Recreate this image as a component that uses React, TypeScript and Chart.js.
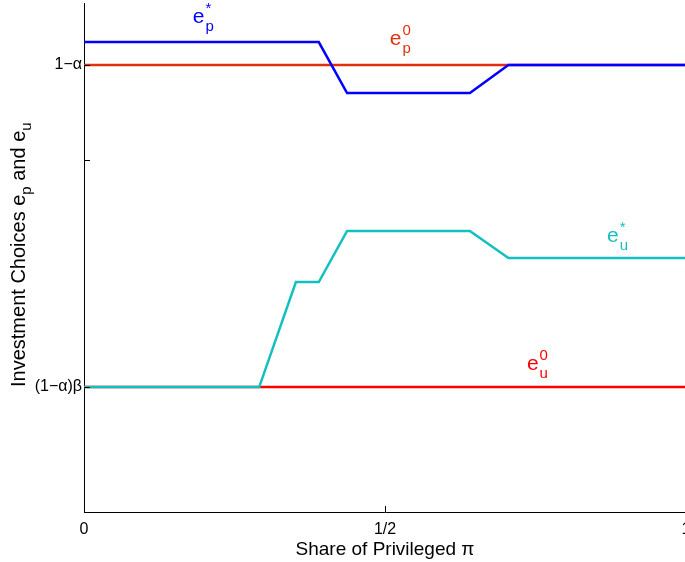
import React, { useEffect, useRef } from "react";
import { Chart, registerables } from "chart.js";
Chart.register(...registerables);

// ---- data ----
const epStarX = [0, 0.39, 0.437, 0.641, 0.705, 1];
const epStarY = [0.7242, 0.7242, 0.6705, 0.6705, 0.7, 0.7];
const euStarX = [0, 0.291, 0.352, 0.39, 0.437, 0.641, 0.705, 1];
const euStarY = [0.361, 0.361, 0.4716, 0.4716, 0.5253, 0.5253, 0.4968, 0.4968];
const baseX = [0, 1];
const ep0Y = [0.7, 0.7];
const eu0Y = [0.361, 0.361];

const xTickValues = [0, 0.5, 1];
const xTickLabels = ["0", "1/2", "1"];
const yTickValues = [0.361, 0.6, 0.7];
const yTickLabels = ["(1\u2212\u03b1)\u03b2", "", "1\u2212\u03b1"];

const annotations = [
  { sup: "*", sub: "p", x: 0.1807, y: 0.7442, color: "#0000ff" },
  { sup: "0", sub: "p", x: 0.508, y: 0.7211, color: "#e0300f" },
  { sup: "*", sub: "u", x: 0.8687, y: 0.5137, color: "#14bfbf" },
  { sup: "0", sub: "u", x: 0.7357, y: 0.3789, color: "#ff0000" },
];

const FONT = "'Liberation Sans', Arial, Helvetica, sans-serif";

const pts = (xs: number[], ys: number[]) => xs.map((x, i) => ({ x, y: ys[i] }));

const decorPlugin = {
  id: "decor",
  afterDraw(chart: any) {
    const ctx = chart.ctx;
    const xs = chart.scales.x;
    const ys = chart.scales.y;
    const area = chart.chartArea;
    ctx.save();
    // inward tick marks
    ctx.strokeStyle = "#000";
    ctx.lineWidth = 1;
    xTickValues.forEach((v) => {
      const px = Math.round(xs.getPixelForValue(v)) + 0.5;
      ctx.beginPath();
      ctx.moveTo(px, area.bottom);
      ctx.lineTo(px, area.bottom - 6);
      ctx.stroke();
    });
    yTickValues.forEach((v) => {
      const py = Math.round(ys.getPixelForValue(v)) + 0.5;
      ctx.beginPath();
      ctx.moveTo(area.left, py);
      ctx.lineTo(area.left + 6, py);
      ctx.stroke();
    });

    // x title
    ctx.fillStyle = "#000";
    ctx.font = `19px ${FONT}`;
    ctx.textAlign = "center";
    ctx.textBaseline = "alphabetic";
    ctx.fillText("Share of Privileged \u03c0", xs.getPixelForValue(0.5), 555);

    // y title (rotated, with subscripts)
    ctx.save();
    ctx.rotate(-Math.PI / 2);
    ctx.textAlign = "left";
    const big = `20px ${FONT}`;
    const small = `15px ${FONT}`;
    const parts: [string, boolean][] = [
      ["Investment Choices e", false],
      ["p", true],
      [" and e", false],
      ["u", true],
    ];
    let lx = -387;
    const baseY = 25;
    parts.forEach(([t, sub]) => {
      ctx.font = sub ? small : big;
      ctx.fillText(t, lx, sub ? baseY + 6 : baseY);
      lx += ctx.measureText(t).width;
    });
    ctx.restore();

    // annotations
    annotations.forEach((a) => {
      const px = xs.getPixelForValue(a.x);
      const py = ys.getPixelForValue(a.y);
      ctx.fillStyle = a.color;
      ctx.textAlign = "left";
      ctx.font = `21px ${FONT}`;
      ctx.fillText("e", px, py);
      const w = ctx.measureText("e").width;
      ctx.font = `15px ${FONT}`;
      ctx.fillText(a.sup, px + w + 1, py - 10);
      ctx.fillText(a.sub, px + w + 1, py + 8);
    });
    ctx.restore();
  },
};

export default function App() {
  const ref = useRef<HTMLCanvasElement | null>(null);
  useEffect(() => {
    if (!ref.current) return;
    const chart = new Chart(ref.current, {
      type: "line",
      data: {
        datasets: [
          {
            label: "ep*",
            data: pts(epStarX, epStarY),
            borderColor: "#0000ff",
            borderWidth: 2.5,
            pointRadius: 0,
            order: 0,
          },
          {
            label: "eu*",
            data: pts(euStarX, euStarY),
            borderColor: "#14bfbf",
            borderWidth: 2.5,
            pointRadius: 0,
            order: 1,
          },
          {
            label: "ep0",
            data: pts(baseX, ep0Y),
            borderColor: "#e0300f",
            borderWidth: 2.5,
            pointRadius: 0,
            order: 2,
          },
          {
            label: "eu0",
            data: pts(baseX, eu0Y),
            borderColor: "#ff0000",
            borderWidth: 2.5,
            pointRadius: 0,
            order: 3,
          },
        ],
      },
      options: {
        responsive: false,
        animation: false,
        events: [],
        layout: { padding: { top: 3, right: 14, left: 0, bottom: 0 } },
        plugins: { legend: { display: false }, tooltip: { enabled: false } },
        scales: {
          x: {
            type: "linear",
            min: 0,
            max: 1,
            grid: { display: false, drawTicks: false },
            border: { display: true, color: "#000", width: 1 },
            afterBuildTicks: (s: any) => {
              s.ticks = xTickValues.map((v) => ({ value: v }));
            },
            afterFit: (s: any) => {
              s.height = 50;
              s.paddingLeft = 0;
              s.paddingRight = 0;
            },
            ticks: {
              autoSkip: false,
              maxRotation: 0,
              padding: 8,
              color: "#000",
              font: { family: FONT, size: 16 },
              callback: (v: any) => {
                const i = xTickValues.indexOf(Number(v));
                return i >= 0 ? xTickLabels[i] : "";
              },
            },
          },
          y: {
            type: "linear",
            min: 0.2295,
            max: 0.7653,
            grid: { display: false, drawTicks: false },
            border: { display: true, color: "#000", width: 1 },
            afterBuildTicks: (s: any) => {
              s.ticks = yTickValues.map((v) => ({ value: v }));
            },
            afterFit: (s: any) => {
              s.width = 84;
              s.paddingTop = 0;
              s.paddingBottom = 0;
            },
            ticks: {
              autoSkip: false,
              padding: 2,
              color: "#000",
              font: { family: FONT, size: 16 },
              callback: (v: any) => {
                const i = yTickValues.indexOf(Number(v));
                return i >= 0 ? yTickLabels[i] : "";
              },
            },
          },
        },
      },
      plugins: [decorPlugin],
    } as any);
    return () => chart.destroy();
  }, []);
  return (
    <div
      style={{
        position: "fixed",
        left: 0,
        top: 0,
        width: 685,
        height: 562,
        overflow: "hidden",
        background: "#fff",
      }}
    >
      <canvas ref={ref} width={700} height={562} style={{ display: "block", width: 700, height: 562 }} />
    </div>
  );
}
